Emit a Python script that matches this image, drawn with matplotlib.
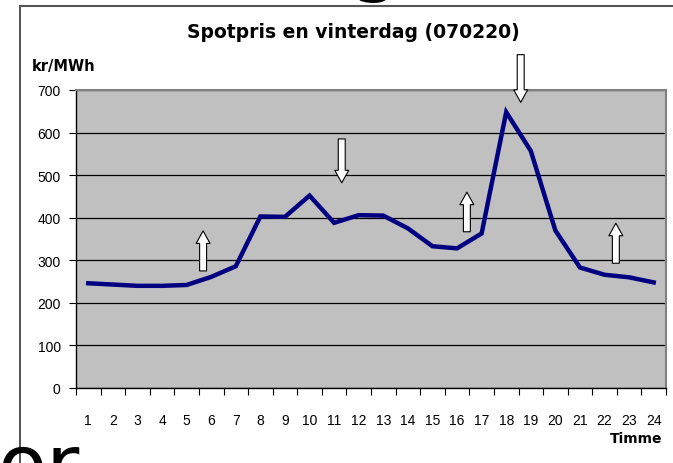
import matplotlib
matplotlib.use("Agg")
import matplotlib.pyplot as plt
from matplotlib.lines import Line2D

# data -----------------------------------------------------------
hours = list(range(1, 25))
price = [246, 243, 240, 240, 242, 261, 286, 403, 402, 452, 388, 406,
         405, 375, 333, 328, 363, 648, 557, 370, 283, 266, 260, 248]
y_ticks = [0, 100, 200, 300, 400, 500, 600, 700]

# arrows: (hour position, start value, end value)
arrows = [(5.67, 275, 369), (11.31, 585, 482), (16.4, 367, 460),
          (18.59, 783, 671), (22.46, 293, 387)]

title = "Spotpris en vinterdag (070220)"
y_label = "kr/MWh"
x_label = "Timme"

fig = plt.figure(figsize=(6.73, 4.64), dpi=100)
ax = fig.add_axes([76 / 673, 75 / 464, 590 / 673, 298 / 464])

ax.set_facecolor("#c0c0c0")
ax.plot(hours, price, color="#000080", lw=3.2, solid_joinstyle="miter", zorder=3)

ax.set_xlim(0.5, 24.5)
ax.set_ylim(0, 700)
ax.set_yticks(y_ticks)
ax.yaxis.grid(True, color="black", lw=0.9)
ax.set_axisbelow(True)

# category axis: tick marks on boundaries, labels at centres
ax.set_xticks([h - 0.5 for h in hours] + [24.5])
ax.set_xticklabels([])
ax.set_xticks(hours, minor=True)
ax.set_xticklabels([str(h) for h in hours], minor=True, fontsize=10,
                   family="Liberation Sans")
ax.tick_params(axis="x", which="major", length=5, direction="out", color="black")
ax.tick_params(axis="x", which="minor", length=0, pad=18)
ax.tick_params(axis="y", length=5, direction="out", pad=6, labelsize=10)
for lab in ax.get_yticklabels():
    lab.set_family("Liberation Sans")

for s in ["top", "right"]:
    ax.spines[s].set_color("#808080")
    ax.spines[s].set_linewidth(1.5)
for s in ["left", "bottom"]:
    ax.spines[s].set_color("black")
    ax.spines[s].set_linewidth(1.0)

for x, y0, y1 in arrows:
    ax.annotate("", xy=(x, y1), xytext=(x, y0), annotation_clip=False,
                arrowprops=dict(arrowstyle="simple,head_length=0.9,head_width=1.0,tail_width=0.5",
                                mutation_scale=10, fc="white", ec="black", lw=0.8,
                                shrinkA=0, shrinkB=0), zorder=4)

fig.text(353 / 673, 1 - 33 / 464, title, ha="center", va="center",
         fontsize=13.5, fontweight="bold")
fig.text(32 / 673, 1 - 67 / 464, y_label, ha="left", va="center",
         fontsize=10.5, fontweight="bold")
fig.text(662 / 673, 1 - 439 / 464, x_label, ha="right", va="center",
         fontsize=10, fontweight="bold")

# surrounding frame and cropped slide text
fig.add_artist(Line2D([20 / 673, 20 / 673], [0, 1 - 7 / 464], color="#333333", lw=1.2))
fig.add_artist(Line2D([20 / 673, 1], [1 - 7 / 464, 1 - 7 / 464], color="#555555", lw=1.5))
fig.text(-2 / 673, -28 / 464, "or", fontsize=58, ha="left", va="baseline")
fig.text(350 / 673, 1 + 14 / 464, "g", fontsize=58, ha="left", va="baseline")

fig.savefig("out.png", dpi=100)
